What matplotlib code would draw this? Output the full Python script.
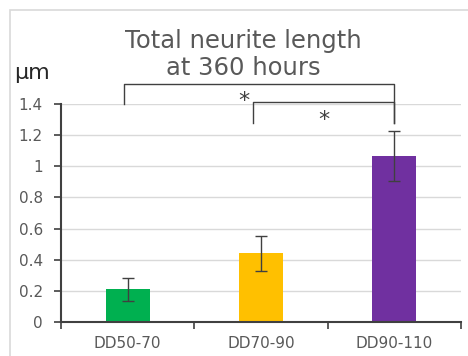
import matplotlib.pyplot as plt
from matplotlib.patches import Rectangle

# --- data ---
groups = ['DD50-70', 'DD70-90', 'DD90-110']
means = [0.21, 0.44, 1.065]
errors = [0.075, 0.11, 0.16]
colors = ['#00B050', '#FFC000', '#7030A0']

# significance brackets: (x_left, x_right, y_top, y_left_leg, y_right_leg, star_x, star_y)
brackets = [
    (-0.03, 2.0, 1.53, 1.40, 1.28, 0.87, 1.42),
    (0.94, 2.0, 1.41, 1.28, 1.28, 1.47, 1.30),
]

TEXT = '#595959'
DARK = '#404040'

fig = plt.figure(figsize=(4.68, 3.56), dpi=100)
ax = fig.add_axes([0.130, 0.0955, 0.855, 0.6125])

# outer chart border
fig.patches.append(Rectangle((10 / 468, -0.05), 1.2, 1 - 10 / 356 + 0.05,
                             transform=fig.transFigure, fill=False,
                             edgecolor='#d9d9d9', linewidth=1.2))

x = range(len(groups))
ax.bar(x, means, width=0.33, color=colors, zorder=2)
ax.errorbar(x, means, yerr=errors, fmt='none', ecolor=DARK, elinewidth=1,
            capsize=4, capthick=1, zorder=3)

ax.set_xlim(-0.5, 2.5)
ax.set_ylim(0, 1.4)
ax.set_yticks([0, 0.2, 0.4, 0.6, 0.8, 1, 1.2, 1.4])
ax.set_yticklabels(['0', '0.2', '0.4', '0.6', '0.8', '1', '1.2', '1.4'])
ax.set_xticks(list(x))
ax.set_xticklabels(groups)
ax.set_xticks([-0.5, 0.5, 1.5, 2.5], minor=True)

ax.grid(axis='y', color='#d9d9d9', linewidth=1, zorder=0)
ax.set_axisbelow(True)
for s in ['top', 'right']:
    ax.spines[s].set_visible(False)
for s in ['left', 'bottom']:
    ax.spines[s].set_color(DARK)
    ax.spines[s].set_linewidth(1.5)

ax.tick_params(axis='y', length=5, width=1.2, color=DARK, labelcolor=TEXT,
               labelsize=11, pad=8)
ax.tick_params(axis='x', which='major', length=0, labelcolor=TEXT,
               labelsize=11, pad=10)
ax.tick_params(axis='x', which='minor', length=5, width=1.2, color=DARK)

for xl, xr, yt, yl, yr, sx, sy in brackets:
    ax.plot([xl, xl, xr, xr], [yl, yt, yt, yr], color=DARK, linewidth=1,
            clip_on=False, zorder=4)
    ax.text(sx, sy, '*', ha='center', va='center', fontsize=16, color=DARK,
            clip_on=False)

fig.text(0.52, 0.848, 'Total neurite length\nat 360 hours', ha='center',
         va='center', fontsize=17.5, color=TEXT, linespacing=1.15)
fig.text(0.03, 0.795, 'µm', ha='left', va='center', fontsize=16, color='#262626')

fig.savefig('out.png', dpi=100)
